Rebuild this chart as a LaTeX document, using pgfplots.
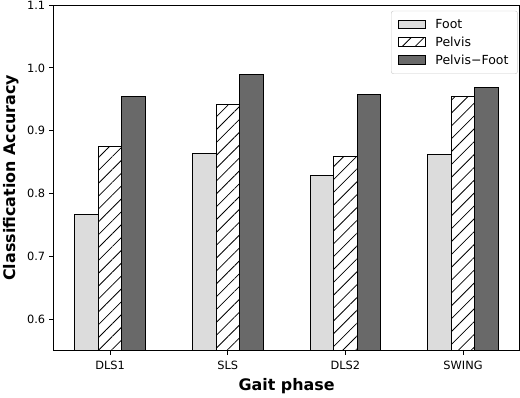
\documentclass[border={0pt 0pt 0pt -2.5pt}]{standalone}
\usepackage{fontspec}
\setmainfont{DejaVu Sans}
\usepackage{pgfplots}
\pgfplotsset{compat=1.18}
\usetikzlibrary{patterns.meta}
\definecolor{footc}{HTML}{DCDCDC}
\definecolor{pfc}{HTML}{696969}
\begin{document}
\begin{tikzpicture}
\begin{axis}[
  scale only axis, width=410pt, height=304pt,
  xmin=-0.48, xmax=3.48, ymin=0.55, ymax=1.1,
  xtick={0,1,2,3}, xticklabels={DLS1,SLS,DLS2,SWING},
  ytick={0.6,0.7,0.8,0.9,1.0,1.1},
  yticklabel style={/pgf/number format/.cd, fixed, fixed zerofill, precision=1},
  /pgf/number format/assume math mode=true,
  tick label style={font=\fontsize{10}{12}\selectfont},
  xticklabel style={yshift=-1.5pt},
  tick align=outside, tick pos=left,
  major tick length=4pt,
  every tick/.style={black, line width=0.7pt},
  axis line style={line width=0.9pt},
  xlabel={Gait phase}, ylabel={Classification Accuracy},
  label style={font=\fontsize{14}{16}\selectfont\bfseries},
  xlabel style={yshift=-1pt},
  legend cell align=left,
  legend style={at={(1,1)}, anchor=north east, xshift=-1.5pt, yshift=-5pt,
    draw=black!20, rounded corners=2pt, fill=white,
    font=\fontsize{11}{13}\selectfont, row sep=2pt, inner xsep=6pt, inner ysep=5pt,
    column sep=6pt},
  legend image code/.code={\draw[#1, sharp corners] (0pt,-3.8pt) rectangle (24pt,3.8pt);},
]
\addplot[ybar, bar width=0.2, bar shift=-0.2, fill=footc, draw=black, line width=0.9pt]
  coordinates {(0,0.767) (1,0.864) (2,0.828) (3,0.862)};
\addlegendentry{Foot}
\addplot[ybar, bar width=0.2, bar shift=0, draw=black, line width=0.9pt,
  pattern={Lines[angle=45,distance=8pt,line width=0.7pt]}, pattern color=black]
  coordinates {(0,0.874) (1,0.941) (2,0.859) (3,0.954)};
\addlegendentry{Pelvis}
\addplot[ybar, bar width=0.2, bar shift=0.2, fill=pfc, draw=black, line width=0.9pt]
  coordinates {(0,0.955) (1,0.990) (2,0.957) (3,0.968)};
\addlegendentry{Pelvis−Foot}
\end{axis}
\end{tikzpicture}
\end{document}
